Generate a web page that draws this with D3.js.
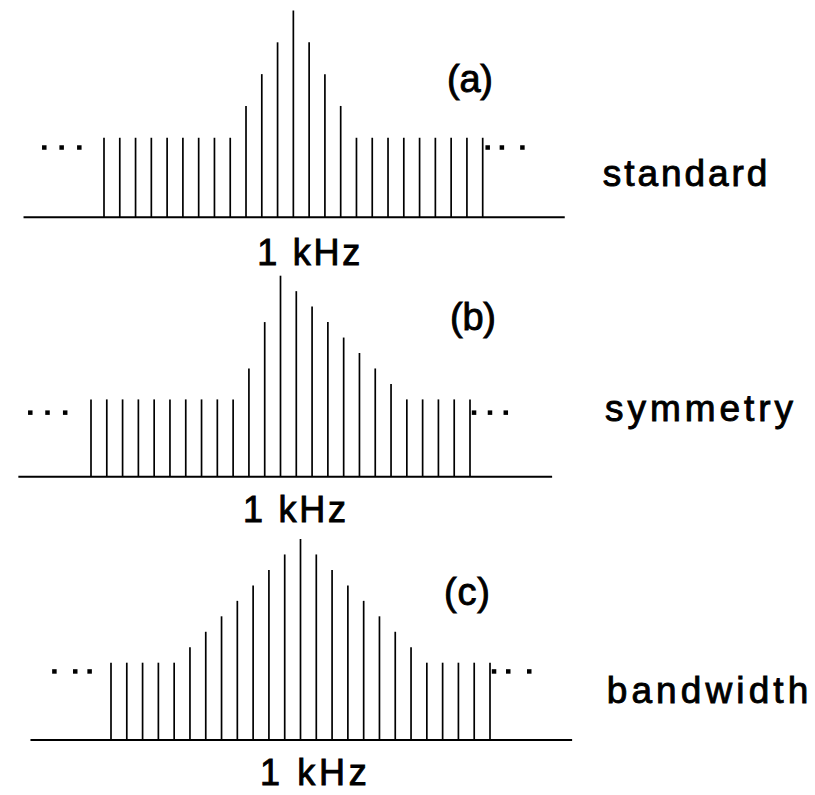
<!DOCTYPE html>
<html>
<head>
<meta charset="utf-8">
<script src="https://cdn.jsdelivr.net/npm/d3@7/dist/d3.min.js"></script>
<style>
  html, body { margin: 0; padding: 0; background: #fff; }
  svg { display: block; }
  text { font-family: "Liberation Sans", Arial, Helvetica, sans-serif; fill: #000;
         stroke: #000; stroke-width: 0.9px; paint-order: stroke; }
</style>
</head>
<body>
<svg id="chart" width="815" height="795"></svg>
<script>
// ---- data ----
const harmonicIndex = d3.range(25);
const standardValues  = [5,5,5,5,5,5,5,5,5, 7,9,11, 13, 11,9,7, 5,5,5,5,5,5,5,5,5];
const symmetryValues  = [5,5,5,5,5,5,5,5,5,5, 7,10, 13, 12,11,10,9,8,7,6, 5,5,5,5,5];
const bandwidthValues = [5,5,5,5,5, 6,7,8,9,10,11,12, 13, 12,11,10,9,8,7,6, 5,5,5,5,5];
const panelTags   = ["(a)", "(b)", "(c)"];
const panelNames  = ["standard", "symmetry", "bandwidth"];
const centerLabel = "1 kHz";

// ---- layout ----
const layouts = [
  { values: standardValues,  x0: 104, x1: 482.7, base: 217.3, top: 10.5,
    axis: [-5.1, 29.2], dotsL: [-3.8, -2.7, -1.58], dotsR: [24.3, 25.2, 26.5], dotOff: 9.5,
    tag: [447, 92], name: [602.7, 186, 164.7], khz: [257.3, 265, 103] },
  { values: symmetryValues,  x0: 91, x1: 470, base: 476.7, top: 275.7,
    axis: [-4.6, 29.2], dotsL: [-3.86, -2.77, -1.65], dotsR: [24.24, 25.25, 26.25], dotOff: 13,
    tag: [450, 330], name: [605, 421, 188], khz: [243, 522, 103] },
  { values: bandwidthValues, x0: 111, x1: 490, base: 740, top: 539,
    axis: [-5.1, 29.2], dotsL: [-3.6, -2.28, -1.37], dotsR: [24.24, 25.14, 26.47], dotOff: 8.5,
    tag: [444, 605], name: [606.7, 702.7, 201.6], khz: [260, 785, 106.7] }
];

const svg = d3.select("#chart");

layouts.forEach((L, p) => {
  const x = d3.scaleLinear().domain([0, 24]).range([L.x0, L.x1]);
  const y = d3.scaleLinear().domain([0, 13]).range([L.base, L.top]);
  const g = svg.append("g");

  // baseline (frequency axis)
  g.append("line")
    .attr("x1", x(L.axis[0])).attr("x2", x(L.axis[1]))
    .attr("y1", y(0)).attr("y2", y(0))
    .attr("stroke", "#000").attr("stroke-width", 2);

  // spectral lines
  g.selectAll("line.h")
    .data(harmonicIndex)
    .join("line")
    .attr("class", "h")
    .attr("x1", i => x(i)).attr("x2", i => x(i))
    .attr("y1", y(0)).attr("y2", i => y(L.values[i]))
    .attr("stroke", "#000").attr("stroke-width", 1.7);

  // continuation dots
  const dy = y(5) + L.dotOff;
  g.selectAll("rect.d")
    .data(L.dotsL.concat(L.dotsR))
    .join("rect")
    .attr("class", "d")
    .attr("x", d => x(d) - 2).attr("y", dy - 2)
    .attr("width", 4.5).attr("height", 4.5)
    .attr("fill", "#000");

  // panel tag
  g.append("text")
    .attr("x", L.tag[0]).attr("y", L.tag[1])
    .attr("font-size", 38)
    .attr("textLength", 46).attr("lengthAdjust", "spacing")
    .text(panelTags[p]);

  // panel name
  g.append("text")
    .attr("x", L.name[0]).attr("y", L.name[1])
    .attr("font-size", 37)
    .attr("textLength", L.name[2]).attr("lengthAdjust", "spacing")
    .text(panelNames[p]);

  // 1 kHz label
  g.append("text")
    .attr("x", L.khz[0]).attr("y", L.khz[1])
    .attr("font-size", 36)
    .attr("textLength", L.khz[2]).attr("lengthAdjust", "spacing")
    .text(centerLabel);
});
</script>
</body>
</html>
